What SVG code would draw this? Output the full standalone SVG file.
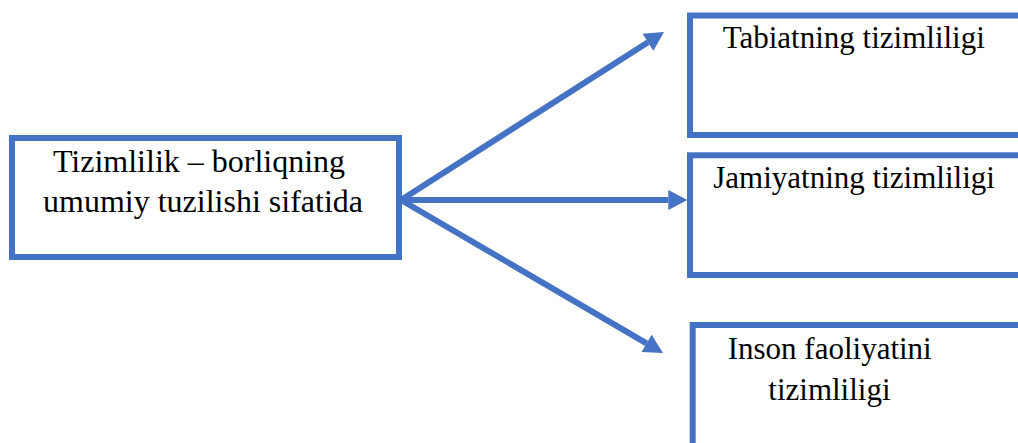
<svg xmlns="http://www.w3.org/2000/svg" width="1018" height="443" viewBox="0 0 1018 443">
  <style>
    .box { fill: #ffffff; stroke: #4472C4; stroke-width: 6; }
    .conn { stroke: #4472C4; stroke-width: 6; fill: none; }
    .lbl { font-family: "Liberation Serif", "Times New Roman", serif; fill: #000000; }
  </style>
  <defs>
    <marker id="arrow" markerUnits="userSpaceOnUse" markerWidth="20" markerHeight="22" refX="0" refY="11" orient="auto" overflow="visible">
      <path d="M0,1 L19,11 L0,21 Z" fill="#4472C4"/>
    </marker>
  </defs>
  <rect width="1018" height="443" fill="#ffffff"/>
  <g id="node-main">
    <rect class="box" x="12" y="138" width="387" height="119"/>
    <text class="lbl" font-size="32" text-anchor="middle">
      <tspan x="203" y="171.5">Tizimlilik – borliqning</tspan>
      <tspan x="203" y="211.5">umumiy tuzilishi sifatida</tspan>
    </text>
  </g>
  <g id="node-tabiat">
    <rect class="box" x="690" y="15.5" width="345" height="119.5"/>
    <text class="lbl" font-size="31" x="722.7" y="48.3">Tabiatning tizimliligi</text>
  </g>
  <g id="node-jamiyat">
    <rect class="box" x="690" y="155.3" width="345" height="119.7"/>
    <text class="lbl" font-size="31" x="713.3" y="188.3">Jamiyatning tizimliligi</text>
  </g>
  <g id="node-inson">
    <rect class="box" x="692.7" y="325" width="345" height="130"/>
    <text class="lbl" font-size="31">
      <tspan x="727.7" y="359.3">Inson faoliyatini</tspan>
      <tspan x="768.3" y="400">tizimliligi</tspan>
    </text>
  </g>
  <g id="connectors">
    <line class="conn" x1="401" y1="200" x2="648" y2="42.2" marker-end="url(#arrow)"/>
    <line class="conn" x1="401" y1="200" x2="668.3" y2="200" marker-end="url(#arrow)"/>
    <line class="conn" x1="401" y1="200" x2="646.6" y2="343.4" marker-end="url(#arrow)"/>
  </g>
</svg>
